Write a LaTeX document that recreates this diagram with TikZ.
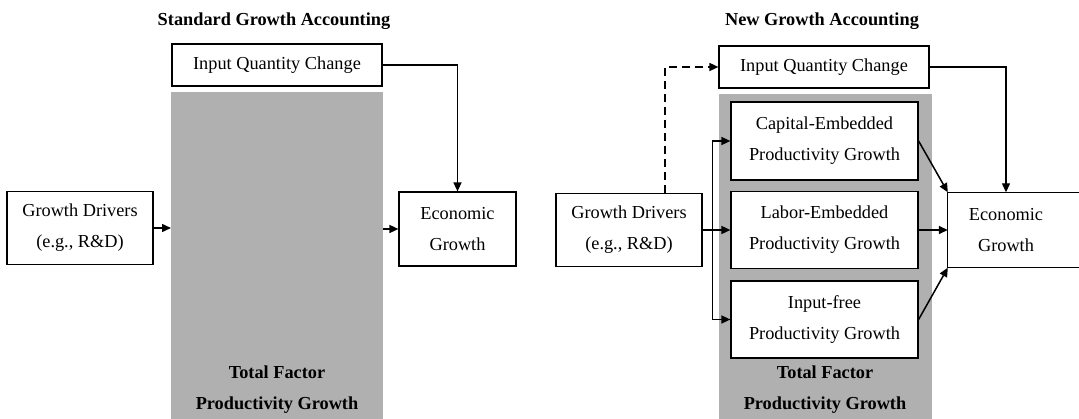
\documentclass[tikz,border=0pt]{standalone}
\usepackage{fontspec}
\setmainfont{Liberation Serif}
\usetikzlibrary{arrows.meta,positioning}
\definecolor{tfpgray}{RGB}{176,176,176}

\begin{document}
\begin{tikzpicture}[x=1pt,y=-1pt,
  font=\fontsize{18.3}{31}\selectfont,
  box/.style={draw,fill=white,line width=1.2pt,align=center,inner sep=0pt},
  txt/.style={align=center,inner sep=0pt},
  head/.style={txt,font=\fontsize{18.3}{31}\selectfont\bfseries},
  tfp/.style={fill=tfpgray,inner sep=0pt,anchor=north west},
  arr/.style={line width=1.5pt,-{Triangle[length=9pt,width=8pt]}}]
\useasboundingbox (0,0) rectangle (1079,419);

% standard growth accounting
\node[head] (titleL) at (274,21) {Standard Growth Accounting};
\node[tfp,minimum width=212pt,minimum height=340pt] (tfpL) at (171,92) {};
\node[head] (tfpLtxt) at (277,389.5) {Total Factor\\Productivity Growth};
\node[box,minimum width=210pt,minimum height=42pt] (iqcL) at (277,65) {Input Quantity Change};
\node[box,minimum width=146pt,minimum height=73pt] (gdL) at (80,228) {Growth Drivers\\(e.g., R\&D)};
\node[box,minimum width=117pt,minimum height=74pt] (econL) at (457.5,229) {Economic\\Growth};

\draw[arr] (gdL.east) -- (gdL.east -| tfpL.west);
\draw[arr] (econL.west -| tfpL.east) -- (econL.west);
\draw[arr,line width=1.3pt] (iqcL.east) -| (econL.north);

% new growth accounting
\node[head] (titleR) at (822,21) {New Growth Accounting};
\node[tfp,minimum width=213pt,minimum height=340pt] (tfpR) at (719,94) {};
\node[head] (tfpRtxt) at (825,389.5) {Total Factor\\Productivity Growth};
\node[box,minimum width=210pt,minimum height=42pt] (iqcR) at (824,67) {Input Quantity Change};
\node[box,minimum width=187pt,minimum height=78pt] (capR) at (824.5,141) {Capital-Embedded\\Productivity Growth};
\node[box,minimum width=187pt,minimum height=77pt] (labR) at (824.5,230) {Labor-Embedded\\Productivity Growth};
\node[box,minimum width=187pt,minimum height=77pt] (freeR) at (824.5,319.5) {Input-free\\Productivity Growth};
\node[box,minimum width=146pt,minimum height=73pt] (gdR) at (629,230) {Growth Drivers\\(e.g., R\&D)};
\node[txt,minimum width=116pt,minimum height=75pt] (econR) at (1006,230) {Economic\\Growth};
\draw[line width=1.2pt] (econR.north west) rectangle ([xshift=40pt]econR.south east);

\coordinate (fork) at ([xshift=10pt]gdR.east);
\draw[arr,dash pattern=on 8pt off 5pt] ([xshift=36pt]gdR.north) |- (iqcR.west);
\draw[arr] (gdR.east) -- (labR.west);
\draw[arr] (fork) |- (capR.west);
\draw[arr] (fork) |- (freeR.west);
\draw[arr] (capR.east) -- (econR.north west);
\draw[arr] (labR.east) -- (econR.west);
\draw[arr] (freeR.east) -- (econR.south west);
\draw[arr,line width=1.3pt] (iqcR.east) -| (econR.north);
\end{tikzpicture}
\end{document}
